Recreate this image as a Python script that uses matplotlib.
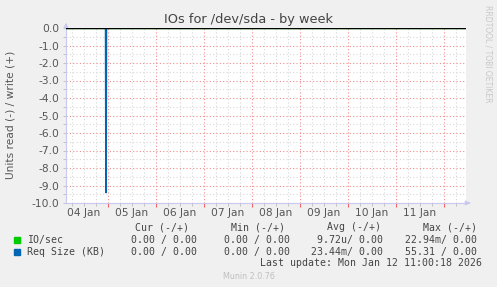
import matplotlib
matplotlib.use("Agg")
import matplotlib.pyplot as plt
import matplotlib.dates as mdates
import numpy as np
from datetime import datetime, timedelta

# ---- data ----
title = "IOs for /dev/sda - by week"
ylabel = "Units read (-) / write (+)"
times = ["2026-01-04 03:00", "2026-01-04 22:50", "2026-01-04 23:00",
         "2026-01-04 23:10", "2026-01-12 11:00"]
io_read = [0.0, 0.0, 0.0, 0.0, 0.0]
req_read = [0.0, 0.0, -9.4, 0.0, 0.0]
series_names = ["IO/sec", "Req Size (KB)"]
series_colors = ["#00CC00", "#0066B3"]
col_headers = ["Cur (-/+)", "Min (-/+)", "Avg (-/+)", "Max (-/+)"]
io_stats = ["0.00 / 0.00", "0.00 / 0.00", "9.72u/ 0.00", "22.94m/ 0.00"]
req_stats = ["0.00 / 0.00", "0.00 / 0.00", "23.44m/ 0.00", "55.31 / 0.00"]
last_update = "Last update: Mon Jan 12 11:00:18 2026"
yticks = np.arange(-10, 0.01, 1.0)

t = [datetime.strptime(s, "%Y-%m-%d %H:%M") for s in times]

W, H = 497, 287
fig = plt.figure(figsize=(W / 100, H / 100), dpi=100)
fig.patch.set_facecolor("#F0F0F0")
ax = fig.add_axes([66 / W, (H - 203) / H, 400 / W, 175 / H])
ax.set_facecolor("white")

ax.plot(t, io_read, color=series_colors[0], lw=1.0, zorder=3)
ax.plot(t, req_read, color=series_colors[1], lw=1.3, zorder=3)
ax.axhline(0, color="black", lw=1.0, zorder=4)

ax.set_xlim(t[0], t[-1])
ax.set_ylim(-10, 0)

major_col = (0.95, 0.55, 0.55, 0.8)
minor_col = "#D8D8D8"
ax.xaxis.set_major_locator(mdates.DayLocator())
ax.xaxis.set_minor_locator(mdates.HourLocator(byhour=[6, 12, 18]))
ax.xaxis.set_major_formatter(plt.NullFormatter())
ax.set_yticks(yticks)
ax.set_yticks(np.arange(-9.5, 0, 1.0), minor=True)
ax.set_yticklabels(["%.1f" % v for v in yticks])
ax.grid(which="major", color=major_col, ls=(0, (1, 2)), lw=0.8)
ax.grid(which="minor", color=minor_col, ls=(0, (1, 2)), lw=0.8)
ax.set_axisbelow(True)
ax.tick_params(axis="x", which="major", length=3, color=(0.95, 0.4, 0.4), width=0.8)
ax.tick_params(axis="x", which="minor", length=2, color="#BBBBBB", width=0.6)
ax.tick_params(axis="y", which="both", length=2, color="#BBBBBB", width=0.6,
               labelsize=7.7, labelcolor="#555555", pad=3)

# day labels at noon
d0 = datetime(t[0].year, t[0].month, t[0].day)
d = d0
while d <= t[-1]:
    noon = d + timedelta(hours=12)
    if t[0] <= noon <= t[-1]:
        ax.text(mdates.date2num(noon), -0.055, d.strftime("%d %b"),
                transform=ax.get_xaxis_transform(), ha="center", va="center",
                fontsize=7.7, color="#555555")
    d += timedelta(days=1)

for s in ["top", "right"]:
    ax.spines[s].set_visible(False)
for s in ["left", "bottom"]:
    ax.spines[s].set_color("#C8C8F0")
    ax.spines[s].set_linewidth(0.8)
# axis arrows
ax.annotate("", xy=(1.018, 0), xytext=(1.0, 0), xycoords="axes fraction",
            arrowprops=dict(arrowstyle="-|>", color="#C8C8F0", lw=0.8, mutation_scale=7),
            annotation_clip=False)
ax.annotate("", xy=(0, 1.045), xytext=(0, 1.0), xycoords="axes fraction",
            arrowprops=dict(arrowstyle="-|>", color="#C8C8F0", lw=0.8, mutation_scale=7),
            annotation_clip=False)

fig.text(248.5 / W, 1 - 19 / H, title, ha="center", va="center", fontsize=9.3, color="#444444")
fig.text(11 / W, 1 - 115 / H, ylabel, rotation=90, ha="center", va="center",
         fontsize=7.7, color="#555555")
fig.text(488 / W, 1 - 53.5 / H, "RRDTOOL / TOBI OETIKER", rotation=270, ha="center",
         va="center", fontsize=5.5, color="#C8C8C8")

mono = dict(family="DejaVu Sans Mono", fontsize=7.1, color="#444444")
hx = [135, 231, 327, 423]
for x, h in zip(hx, col_headers):
    fig.text(x / W, 1 - 227.5 / H, h, ha="left", va="center", **mono)
ends = [197, 290, 383, 477]
rows_y = [240, 252]
for yy, name, col, stats in zip(rows_y, series_names, series_colors, [io_stats, req_stats]):
    fig.patches.append(plt.Rectangle((14 / W, 1 - (yy + 3) / H), 6 / W, 6 / H,
                                     transform=fig.transFigure, color=col))
    fig.text(27 / W, 1 - yy / H, name, ha="left", va="center", **mono)
    for x, s in zip(ends, stats):
        fig.text(x / W, 1 - yy / H, s, ha="right", va="center", **mono)
fig.text(482 / W, 1 - 263.5 / H, last_update, ha="right", va="center", **mono)
fig.text(248.5 / W, 1 - 276.5 / H, "Munin 2.0.76", ha="center", va="center",
         fontsize=5.8, color="#C0C0C0")

fig.savefig("out.png", dpi=100, facecolor=fig.get_facecolor())
